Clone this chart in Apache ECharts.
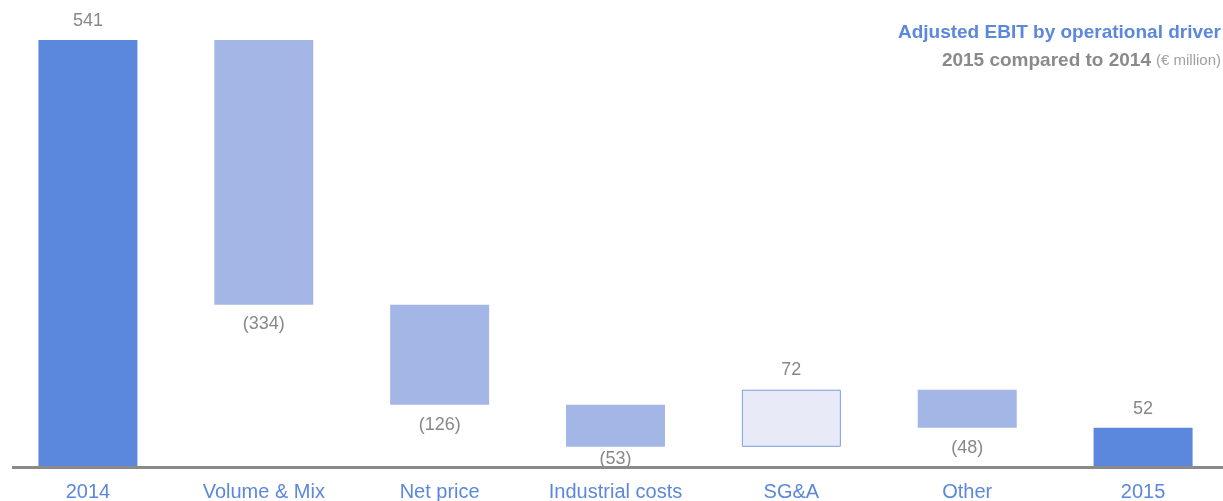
<!DOCTYPE html>
<html>
<head>
<meta charset="utf-8">
<script src="https://cdn.jsdelivr.net/npm/echarts@6/dist/echarts.min.js"></script>
<style>
  html, body { margin: 0; padding: 0; background: #fff; }
  #chart { width: 1223px; height: 501px; }
</style>
</head>
<body>
<div id="chart"></div>
<script>
// 类目与数值（2015 vs 2014，€ million）
var categories = ['2014', 'Volume & Mix', 'Net price', 'Industrial costs', 'SG&A', 'Other', '2015'];
var values = [541, -334, -126, -53, 72, -48, 52];
var kinds = ['total', 'down', 'down', 'down', 'up', 'down', 'total'];
// 标签与柱子的间距（样式）
var labelGap = [10, 10, 11, 3, 11, 11, 10];

// 瀑布图：透明底座 + 可见部分
var baseData = [];
var barData = [];
var running = 0;
for (var i = 0; i < values.length; i++) {
  var v = values[i];
  if (kinds[i] === 'total') {
    baseData.push(0);
    barData.push(v);
    running = v;
  } else if (v < 0) {
    running += v;
    baseData.push(running);
    barData.push(-v);
  } else {
    baseData.push(running);
    barData.push(v);
    running += v;
  }
}

var colorTotal = '#5b87dc';
var colorDown = '#a4b6e6';
var font = '"Liberation Sans", Arial, Helvetica, sans-serif';

var chart = echarts.init(document.getElementById('chart'));
chart.setOption({
  animation: false,
  grid: { left: 0, width: 1231, top: 40, bottom: 32, outerBoundsMode: 'none', containLabel: false },
  title: [{
    text: 'Adjusted EBIT by operational driver',
    right: 2, top: 23, padding: 0,
    textStyle: { color: colorTotal, fontSize: 19, fontWeight: 'bold', fontFamily: font }
  }, {
    text: '{a|2015 compared to 2014} {b|(€ million)}',
    right: 2, top: 51, padding: 0,
    textStyle: {
      fontFamily: font,
      rich: {
        a: { color: '#8a8a8a', fontSize: 19, fontWeight: 'bold', fontFamily: font },
        b: { color: '#a0a0a0', fontSize: 15, fontWeight: 'normal', fontFamily: font }
      }
    }
  }],
  xAxis: {
    type: 'category',
    data: categories,
    axisLine: { show: false },
    axisTick: { show: false },
    axisLabel: { color: colorTotal, fontSize: 20, fontFamily: font, margin: 13 }
  },
  yAxis: {
    type: 'value', min: 0, max: 541,
    show: false,
    splitLine: { show: false }
  },
  series: [{
    type: 'bar',
    stack: 'wf',
    barWidth: 99,
    silent: true,
    itemStyle: { color: 'transparent' },
    data: baseData
  }, {
    type: 'bar',
    stack: 'wf',
    barWidth: 99,
    data: barData.map(function (h, i) {
      var k = kinds[i];
      var item = { value: h };
      if (k === 'total') {
        item.itemStyle = { color: colorTotal };
      } else if (k === 'down') {
        item.itemStyle = { color: colorDown };
      } else {
        item.itemStyle = { color: '#e8eaf7', borderColor: '#7a9de0', borderWidth: 1 };
      }
      item.label = {
        show: true,
        position: k === 'down' ? 'bottom' : 'top',
        distance: labelGap[i],
        color: '#888888',
        fontSize: 18,
        fontFamily: font,
        formatter: k === 'down' ? '(' + Math.abs(values[i]) + ')' : String(values[i])
      };
      return item;
    })
  }]
});

// 底部基线（从左侧稍微缩进开始）
var y0 = chart.convertToPixel({ yAxisIndex: 0 }, 0);
chart.setOption({
  graphic: [{
    type: 'line',
    shape: { x1: 12, y1: y0 - 1.5, x2: 1223, y2: y0 - 1.5 },
    style: { stroke: '#8a8a8a', lineWidth: 3 },
    z: 10
  }]
});
</script>
</body>
</html>
